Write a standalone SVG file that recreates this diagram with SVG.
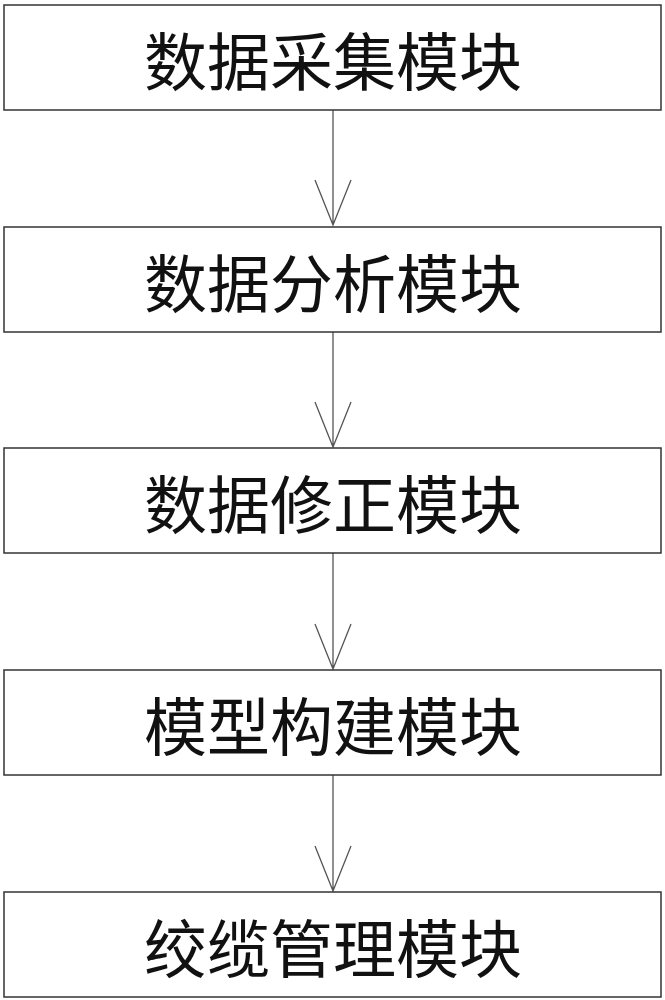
<svg xmlns="http://www.w3.org/2000/svg" width="665" height="1000" viewBox="0 0 665 1000">
<style>
.b{fill:#fff;stroke:#333;stroke-width:1.5}
.t{font-family:"Noto Sans CJK SC",sans-serif;font-size:63px;fill:#111;text-anchor:middle;dominant-baseline:central}
.c{stroke:#555;stroke-width:1.3;fill:none}
</style>
<rect width="665" height="1000" fill="#fff"/>
<g id="connectors">
<path class="c" d="M333 110V225M315 180L333 225L351 180"/>
<path class="c" d="M333 332V447M315 402L333 447L351 402"/>
<path class="c" d="M333 553V669M315 624L333 669L351 624"/>
<path class="c" d="M333 775V891M315 846L333 891L351 846"/>
</g>
<g id="n1"><rect class="b" x="4" y="5" width="657" height="105"/><text class="t" x="333" y="57">数据采集模块</text></g>
<g id="n2"><rect class="b" x="4" y="227" width="657" height="105"/><text class="t" x="333" y="279">数据分析模块</text></g>
<g id="n3"><rect class="b" x="4" y="448" width="657" height="105"/><text class="t" x="333" y="500">数据修正模块</text></g>
<g id="n4"><rect class="b" x="4" y="670" width="657" height="105"/><text class="t" x="333" y="722">模型构建模块</text></g>
<g id="n5"><rect class="b" x="4" y="892" width="657" height="105"/><text class="t" x="333" y="944">绞缆管理模块</text></g>
</svg>
